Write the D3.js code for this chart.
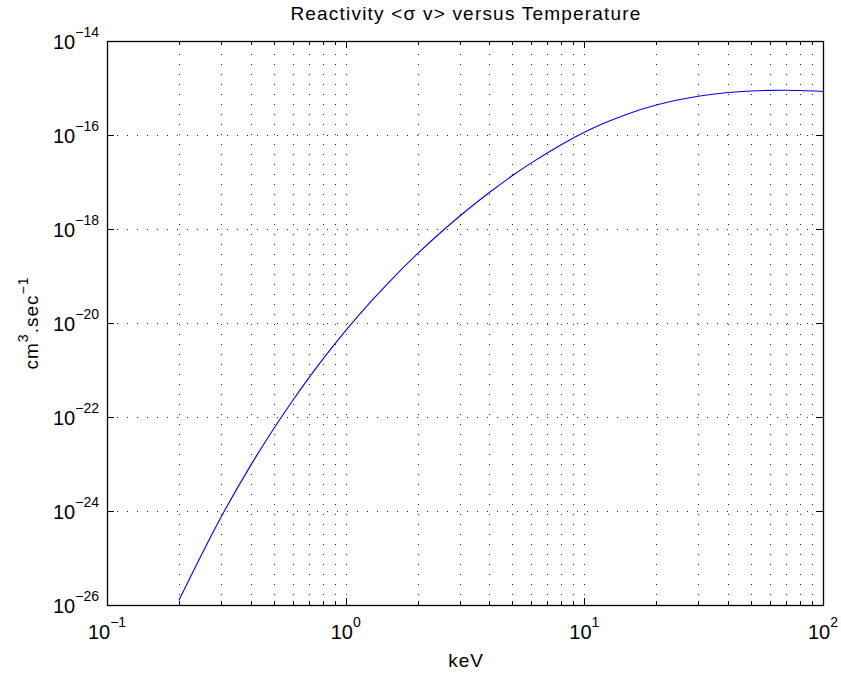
<!DOCTYPE html>
<html lang="en">
<head>
<meta charset="UTF-8">
<title>Reactivity versus Temperature</title>
<style>
  body { margin: 0; background: #fff; }
  svg { display: block; font-family: 'Liberation Sans', Arial, Helvetica, sans-serif; }
</style>
</head>
<body>
<svg id="svgId"></svg>
<script src="https://cdnjs.cloudflare.com/ajax/libs/d3/7.8.5/d3.min.js"></script>
<script>

    // temperature in keV and reactivity <sigma v> in cm^3/sec
    const temps = [0.2, 0.3, 0.4, 0.5, 0.6, 0.7, 0.8, 1.0, 1.3, 1.5, 2.0, 2.5, 3.0, 4.0, 5.0, 6.0,
                   8.0, 10, 12, 15, 20, 30, 40, 50, 60, 70, 80, 100];
    const reactivity = [1.25e-26, 7.29e-25, 9.34e-24, 5.70e-23, 2.25e-22, 6.74e-22, 1.66e-21, 6.86e-21,
                        3.17e-20, 6.92e-20, 2.98e-19, 8.43e-19, 1.87e-18, 5.97e-18, 1.37e-17, 2.55e-17,
                        6.22e-17, 1.14e-16, 1.75e-16, 2.74e-16, 4.33e-16, 6.68e-16, 8.00e-16, 8.65e-16,
                        8.91e-16, 8.94e-16, 8.84e-16, 8.45e-16];

    // tick exponents
    const xExponents = [-1, 0, 1, 2];
    const yExponents = [-26, -24, -22, -20, -18, -16, -14];

    const titleText = 'Reactivity <\u03c3 v> versus Temperature';
    const xLabelText = 'keV';

    const svgWidth = 841, svgHeight = 675;
    const margin = {top: 41, right: 18, bottom: 70, left: 107};
    const width = svgWidth - margin.left - margin.right;
    const height = svgHeight - margin.top - margin.bottom;

    const svg = d3.select('#svgId')
        .attr('width', svgWidth)
        .attr('height', svgHeight);

    const g = svg.append('g')
        .attr('transform', `translate(${margin.left},${margin.top})`);

    const xScale = d3.scaleLog().domain([1e-1, 1e2]).range([0, width]);
    const yScale = d3.scaleLog().domain([1e-26, 1e-14]).range([height, 0]);

    // minor positions along x (2..9 in every decade)
    const xMinor = [];
    for (let e = -1; e < 2; e++) {
        for (let k = 2; k <= 9; k++) xMinor.push(k * Math.pow(10, e));
    }
    const xMajor = xExponents.map(e => Math.pow(10, e));
    const yMajor = yExponents.map(e => Math.pow(10, e));

    // grid: dotted
    const grid = g.append('g').attr('class', 'grid')
        .attr('stroke', '#222')
        .attr('stroke-width', 1)
        .attr('stroke-dasharray', '1,9')
        .attr('shape-rendering', 'crispEdges');

    grid.selectAll('.vgrid')
        .data(xMajor.concat(xMinor)).enter()
        .append('line')
        .attr('x1', d => Math.round(xScale(d)) + 0.5)
        .attr('x2', d => Math.round(xScale(d)) + 0.5)
        .attr('y1', height)
        .attr('y2', 0);

    grid.selectAll('.hgrid')
        .data(yMajor).enter()
        .append('line')
        .attr('x1', 0)
        .attr('x2', width)
        .attr('y1', d => Math.round(yScale(d)) + 0.5)
        .attr('y2', d => Math.round(yScale(d)) + 0.5);

    // the curve
    const line = d3.line()
        .x((d, i) => xScale(temps[i]))
        .y(d => yScale(d))
        .curve(d3.curveMonotoneX);

    g.append('path')
        .datum(reactivity)
        .attr('fill', 'none')
        .attr('stroke', '#0000ff')
        .attr('stroke-width', 1.1)
        .attr('d', line);

    // ticks, pointing inward on all four sides
    const ticks = g.append('g')
        .attr('stroke', '#000')
        .attr('stroke-width', 1)
        .attr('shape-rendering', 'crispEdges');

    const tickX = [].concat(
        xMajor.map(d => ({v: d, len: 7})),
        xMinor.map(d => ({v: d, len: 4})));

    tickX.forEach(t => {
        const px = Math.round(xScale(t.v)) + 0.5;
        ticks.append('line').attr('x1', px).attr('x2', px).attr('y1', height).attr('y2', height - t.len);
        ticks.append('line').attr('x1', px).attr('x2', px).attr('y1', 0).attr('y2', t.len);
    });

    yMajor.forEach(v => {
        const py = Math.round(yScale(v)) + 0.5;
        ticks.append('line').attr('x1', 0).attr('x2', 7).attr('y1', py).attr('y2', py);
        ticks.append('line').attr('x1', width).attr('x2', width - 7).attr('y1', py).attr('y2', py);
    });

    // axes box
    g.append('rect')
        .attr('x', 0.5)
        .attr('y', 0.5)
        .attr('width', width)
        .attr('height', height)
        .attr('fill', 'none')
        .attr('stroke', '#000')
        .attr('stroke-width', 1.3);

    // tick labels, "10" with the exponent raised
    const xLabels = g.append('g')
        .attr('font-size', 20)
        .attr('fill', '#000');

    xExponents.forEach(e => {
        const t = xLabels.append('text')
            .attr('x', xScale(Math.pow(10, e)))
            .attr('y', height + 34)
            .attr('text-anchor', 'middle');
        t.append('tspan').text('10');
        t.append('tspan').attr('font-size', 14).attr('dy', -12)
            .text(String(e).replace('-', '\u2212'));
    });

    const yLabels = g.append('g')
        .attr('font-size', 20)
        .attr('fill', '#000');

    yExponents.forEach(e => {
        const t = yLabels.append('text')
            .attr('x', -8)
            .attr('y', yScale(Math.pow(10, e)) + 8)
            .attr('text-anchor', 'end');
        t.append('tspan').text('10');
        t.append('tspan').attr('font-size', 14).attr('dy', -12)
            .text(String(e).replace('-', '\u2212'));
    });

    // title and axis labels
    svg.append('text')
        .attr('x', margin.left + width / 2 + 1)
        .attr('y', 20)
        .attr('text-anchor', 'middle')
        .attr('font-size', 19)
        .attr('letter-spacing', 1.2)
        .text(titleText);

    svg.append('text')
        .attr('x', margin.left + width / 2 + 1)
        .attr('y', 667)
        .attr('text-anchor', 'middle')
        .attr('font-size', 19)
        .attr('letter-spacing', 1)
        .text(xLabelText);

    const yLab = svg.append('text')
        .attr('transform', `translate(38, ${margin.top + height / 2}) rotate(-90)`)
        .attr('text-anchor', 'middle')
        .attr('font-size', 19)
        .attr('letter-spacing', 1);
    yLab.append('tspan').text('cm');
    yLab.append('tspan').attr('font-size', 14).attr('dy', -10).text('3');
    yLab.append('tspan').attr('dy', 10).text('.sec');
    yLab.append('tspan').attr('font-size', 14).attr('dy', -10).text('\u22121');

</script>
</body>
</html>
